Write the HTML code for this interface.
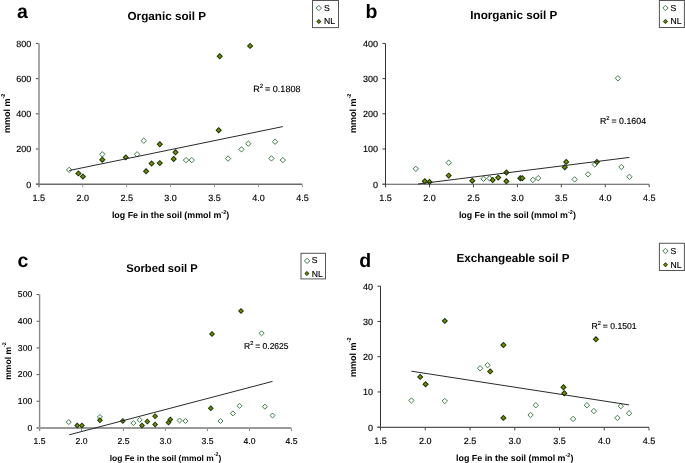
<!DOCTYPE html>
<html><head><meta charset="utf-8"><style>
html,body{margin:0;padding:0;background:#fff;}
svg{display:block;will-change:transform;}
svg text{font-family:"Liberation Sans", sans-serif;fill:#000;text-rendering:geometricPrecision;}
svg text.tk,svg text.rg{stroke:#000;stroke-width:0.15px;}
</style></head><body>
<svg width="685" height="463" viewBox="0 0 685 463">
<rect width="685" height="463" fill="#fff"/>
<text x="17.0" y="18.0" font-size="19.5" font-weight="bold">a</text>
<text x="127.5" y="19.7" font-size="11.7" font-weight="bold">Organic soil P</text>
<line x1="39.0" y1="43.45" x2="39.0" y2="187.2" stroke="#999" stroke-width="1.7"/>
<line x1="36.0" y1="184.20" x2="38.449999999999996" y2="184.20" stroke="#444" stroke-width="1"/>
<text class="tk" transform="translate(31.2,187.50) scale(1,1)" font-size="9.0" text-anchor="end">0</text>
<line x1="36.0" y1="149.01" x2="38.449999999999996" y2="149.01" stroke="#444" stroke-width="1"/>
<text class="tk" transform="translate(31.2,152.31) scale(1,1)" font-size="9.0" text-anchor="end">200</text>
<line x1="36.0" y1="113.82" x2="38.449999999999996" y2="113.82" stroke="#444" stroke-width="1"/>
<text class="tk" transform="translate(31.2,117.12) scale(1,1)" font-size="9.0" text-anchor="end">400</text>
<line x1="36.0" y1="78.64" x2="38.449999999999996" y2="78.64" stroke="#444" stroke-width="1"/>
<text class="tk" transform="translate(31.2,81.94) scale(1,1)" font-size="9.0" text-anchor="end">600</text>
<line x1="36.0" y1="43.45" x2="38.449999999999996" y2="43.45" stroke="#444" stroke-width="1"/>
<text class="tk" transform="translate(31.2,46.75) scale(1,1)" font-size="9.0" text-anchor="end">800</text>
<line x1="36.0" y1="184.2" x2="302.4" y2="184.2" stroke="#6a6a6a" stroke-width="1.5"/>
<line x1="38.80" y1="184.64999999999998" x2="38.80" y2="187.2" stroke="#999" stroke-width="1"/>
<text class="tk" transform="translate(38.80,200.8) scale(1,1)" font-size="9.0" text-anchor="middle">1.5</text>
<line x1="82.73" y1="184.64999999999998" x2="82.73" y2="187.2" stroke="#999" stroke-width="1"/>
<text class="tk" transform="translate(82.73,200.8) scale(1,1)" font-size="9.0" text-anchor="middle">2.0</text>
<line x1="126.67" y1="184.64999999999998" x2="126.67" y2="187.2" stroke="#999" stroke-width="1"/>
<text class="tk" transform="translate(126.67,200.8) scale(1,1)" font-size="9.0" text-anchor="middle">2.5</text>
<line x1="170.60" y1="184.64999999999998" x2="170.60" y2="187.2" stroke="#999" stroke-width="1"/>
<text class="tk" transform="translate(170.60,200.8) scale(1,1)" font-size="9.0" text-anchor="middle">3.0</text>
<line x1="214.53" y1="184.64999999999998" x2="214.53" y2="187.2" stroke="#999" stroke-width="1"/>
<text class="tk" transform="translate(214.53,200.8) scale(1,1)" font-size="9.0" text-anchor="middle">3.5</text>
<line x1="258.47" y1="184.64999999999998" x2="258.47" y2="187.2" stroke="#999" stroke-width="1"/>
<text class="tk" transform="translate(258.47,200.8) scale(1,1)" font-size="9.0" text-anchor="middle">4.0</text>
<line x1="302.40" y1="184.64999999999998" x2="302.40" y2="187.2" stroke="#999" stroke-width="1"/>
<text class="tk" transform="translate(302.40,200.8) scale(1,1)" font-size="9.0" text-anchor="middle">4.5</text>
<text x="170.6" y="218.2" font-size="8.9" font-weight="bold" text-anchor="middle">log Fe in the soil (mmol m<tspan font-size="5.58" dy="-4.3">-2</tspan><tspan dy="4.3">)</tspan></text>
<text transform="translate(10.3,113.3) rotate(-90)" x="0" y="0" font-size="9.0" font-weight="bold" text-anchor="middle">mmol m<tspan font-size="5.58" dy="-5.0">-2</tspan></text>
<polygon points="69.20,167.20 71.90,169.90 69.20,172.60 66.50,169.90" fill="#fff" stroke="#3f7d48" stroke-width="1"/>
<polygon points="102.30,151.60 105.00,154.30 102.30,157.00 99.60,154.30" fill="#fff" stroke="#3f7d48" stroke-width="1"/>
<polygon points="137.10,151.60 139.80,154.30 137.10,157.00 134.40,154.30" fill="#fff" stroke="#3f7d48" stroke-width="1"/>
<polygon points="143.80,138.00 146.50,140.70 143.80,143.40 141.10,140.70" fill="#fff" stroke="#3f7d48" stroke-width="1"/>
<polygon points="186.00,157.40 188.70,160.10 186.00,162.80 183.30,160.10" fill="#fff" stroke="#3f7d48" stroke-width="1"/>
<polygon points="191.70,157.40 194.40,160.10 191.70,162.80 189.00,160.10" fill="#fff" stroke="#3f7d48" stroke-width="1"/>
<polygon points="228.10,155.90 230.80,158.60 228.10,161.30 225.40,158.60" fill="#fff" stroke="#3f7d48" stroke-width="1"/>
<polygon points="241.50,146.70 244.20,149.40 241.50,152.10 238.80,149.40" fill="#fff" stroke="#3f7d48" stroke-width="1"/>
<polygon points="248.30,141.00 251.00,143.70 248.30,146.40 245.60,143.70" fill="#fff" stroke="#3f7d48" stroke-width="1"/>
<polygon points="271.40,155.70 274.10,158.40 271.40,161.10 268.70,158.40" fill="#fff" stroke="#3f7d48" stroke-width="1"/>
<polygon points="275.10,139.00 277.80,141.70 275.10,144.40 272.40,141.70" fill="#fff" stroke="#3f7d48" stroke-width="1"/>
<polygon points="282.80,157.40 285.50,160.10 282.80,162.80 280.10,160.10" fill="#fff" stroke="#3f7d48" stroke-width="1"/>
<polygon points="78.40,170.20 81.60,173.40 78.40,176.60 75.20,173.40" fill="#063306"/><polygon points="78.40,171.50 80.30,173.40 78.40,175.30 76.50,173.40" fill="#848400"/>
<polygon points="82.90,173.40 86.10,176.60 82.90,179.80 79.70,176.60" fill="#063306"/><polygon points="82.90,174.70 84.80,176.60 82.90,178.50 81.00,176.60" fill="#848400"/>
<polygon points="102.30,156.50 105.50,159.70 102.30,162.90 99.10,159.70" fill="#063306"/><polygon points="102.30,157.80 104.20,159.70 102.30,161.60 100.40,159.70" fill="#848400"/>
<polygon points="125.80,154.20 129.00,157.40 125.80,160.60 122.60,157.40" fill="#063306"/><polygon points="125.80,155.50 127.70,157.40 125.80,159.30 123.90,157.40" fill="#848400"/>
<polygon points="146.10,168.10 149.30,171.30 146.10,174.50 142.90,171.30" fill="#063306"/><polygon points="146.10,169.40 148.00,171.30 146.10,173.20 144.20,171.30" fill="#848400"/>
<polygon points="151.60,160.30 154.80,163.50 151.60,166.70 148.40,163.50" fill="#063306"/><polygon points="151.60,161.60 153.50,163.50 151.60,165.40 149.70,163.50" fill="#848400"/>
<polygon points="159.80,159.90 163.00,163.10 159.80,166.30 156.60,163.10" fill="#063306"/><polygon points="159.80,161.20 161.70,163.10 159.80,165.00 157.90,163.10" fill="#848400"/>
<polygon points="159.80,141.10 163.00,144.30 159.80,147.50 156.60,144.30" fill="#063306"/><polygon points="159.80,142.40 161.70,144.30 159.80,146.20 157.90,144.30" fill="#848400"/>
<polygon points="173.70,155.80 176.90,159.00 173.70,162.20 170.50,159.00" fill="#063306"/><polygon points="173.70,157.10 175.60,159.00 173.70,160.90 171.80,159.00" fill="#848400"/>
<polygon points="175.50,149.10 178.70,152.30 175.50,155.50 172.30,152.30" fill="#063306"/><polygon points="175.50,150.40 177.40,152.30 175.50,154.20 173.60,152.30" fill="#848400"/>
<polygon points="218.70,127.00 221.90,130.20 218.70,133.40 215.50,130.20" fill="#063306"/><polygon points="218.70,128.30 220.60,130.20 218.70,132.10 216.80,130.20" fill="#848400"/>
<polygon points="219.70,53.10 222.90,56.30 219.70,59.50 216.50,56.30" fill="#063306"/><polygon points="219.70,54.40 221.60,56.30 219.70,58.20 217.80,56.30" fill="#848400"/>
<polygon points="250.10,42.70 253.30,45.90 250.10,49.10 246.90,45.90" fill="#063306"/><polygon points="250.10,44.00 252.00,45.90 250.10,47.80 248.20,45.90" fill="#848400"/>
<line x1="69.2" y1="170.5" x2="282.8" y2="126.6" stroke="#2a2a2a" stroke-width="1"/>
<text class="rg" x="253.2" y="92.4" font-size="9.0">R<tspan font-size="5.94" dy="-4.3">2</tspan><tspan dy="4.3" dx="-0.4"> = 0.1808</tspan></text>
<rect x="312.5" y="0.5" width="26.0" height="27.1" fill="#fff" stroke="#555" stroke-width="1"/>
<polygon points="318.80,5.40 321.50,8.10 318.80,10.80 316.10,8.10" fill="#fff" stroke="#3f7d48" stroke-width="1"/>
<polygon points="318.80,18.98 321.32,21.50 318.80,24.02 316.28,21.50" fill="#063306"/><polygon points="318.80,19.93 320.38,21.50 318.80,23.07 317.23,21.50" fill="#848400"/>
<text class="rg" x="324.0" y="10.9" font-size="8.6">S</text>
<text class="rg" x="324.0" y="24.4" font-size="8.6">NL</text>
<text x="365.6" y="17.8" font-size="19.5" font-weight="bold">b</text>
<text x="470.3" y="19.3" font-size="11.7" font-weight="bold">Inorganic soil P</text>
<line x1="385.5" y1="43.45" x2="385.5" y2="187.2" stroke="#333" stroke-width="1.0"/>
<line x1="382.5" y1="184.20" x2="385.3" y2="184.20" stroke="#333" stroke-width="1"/>
<text class="tk" transform="translate(378.0,187.50) scale(1,1)" font-size="9.0" text-anchor="end">0</text>
<line x1="382.5" y1="149.01" x2="385.3" y2="149.01" stroke="#333" stroke-width="1"/>
<text class="tk" transform="translate(378.0,152.31) scale(1,1)" font-size="9.0" text-anchor="end">100</text>
<line x1="382.5" y1="113.82" x2="385.3" y2="113.82" stroke="#333" stroke-width="1"/>
<text class="tk" transform="translate(378.0,117.12) scale(1,1)" font-size="9.0" text-anchor="end">200</text>
<line x1="382.5" y1="78.64" x2="385.3" y2="78.64" stroke="#333" stroke-width="1"/>
<text class="tk" transform="translate(378.0,81.94) scale(1,1)" font-size="9.0" text-anchor="end">300</text>
<line x1="382.5" y1="43.45" x2="385.3" y2="43.45" stroke="#333" stroke-width="1"/>
<text class="tk" transform="translate(378.0,46.75) scale(1,1)" font-size="9.0" text-anchor="end">400</text>
<line x1="382.5" y1="184.2" x2="649.2" y2="184.2" stroke="#555" stroke-width="1.1"/>
<line x1="385.60" y1="184.45" x2="385.60" y2="187.2" stroke="#444" stroke-width="1"/>
<text class="tk" transform="translate(385.60,200.8) scale(1,1)" font-size="9.0" text-anchor="middle">1.5</text>
<line x1="429.53" y1="184.45" x2="429.53" y2="187.2" stroke="#444" stroke-width="1"/>
<text class="tk" transform="translate(429.53,200.8) scale(1,1)" font-size="9.0" text-anchor="middle">2.0</text>
<line x1="473.47" y1="184.45" x2="473.47" y2="187.2" stroke="#444" stroke-width="1"/>
<text class="tk" transform="translate(473.47,200.8) scale(1,1)" font-size="9.0" text-anchor="middle">2.5</text>
<line x1="517.40" y1="184.45" x2="517.40" y2="187.2" stroke="#444" stroke-width="1"/>
<text class="tk" transform="translate(517.40,200.8) scale(1,1)" font-size="9.0" text-anchor="middle">3.0</text>
<line x1="561.33" y1="184.45" x2="561.33" y2="187.2" stroke="#444" stroke-width="1"/>
<text class="tk" transform="translate(561.33,200.8) scale(1,1)" font-size="9.0" text-anchor="middle">3.5</text>
<line x1="605.27" y1="184.45" x2="605.27" y2="187.2" stroke="#444" stroke-width="1"/>
<text class="tk" transform="translate(605.27,200.8) scale(1,1)" font-size="9.0" text-anchor="middle">4.0</text>
<line x1="649.20" y1="184.45" x2="649.20" y2="187.2" stroke="#444" stroke-width="1"/>
<text class="tk" transform="translate(649.20,200.8) scale(1,1)" font-size="9.0" text-anchor="middle">4.5</text>
<text x="517.4" y="218.2" font-size="8.85" font-weight="bold" text-anchor="middle">log Fe in the soil (mmol m<tspan font-size="5.58" dy="-4.3">-2</tspan><tspan dy="4.3">)</tspan></text>
<text transform="translate(356.0,113.3) rotate(-90)" x="0" y="0" font-size="9.0" font-weight="bold" text-anchor="middle">mmol m<tspan font-size="5.58" dy="-5.0">-2</tspan></text>
<polygon points="415.80,166.10 418.50,168.80 415.80,171.50 413.10,168.80" fill="#fff" stroke="#3f7d48" stroke-width="1"/>
<polygon points="448.70,160.00 451.40,162.70 448.70,165.40 446.00,162.70" fill="#fff" stroke="#3f7d48" stroke-width="1"/>
<polygon points="483.50,176.10 486.20,178.80 483.50,181.50 480.80,178.80" fill="#fff" stroke="#3f7d48" stroke-width="1"/>
<polygon points="489.60,175.70 492.30,178.40 489.60,181.10 486.90,178.40" fill="#fff" stroke="#3f7d48" stroke-width="1"/>
<polygon points="532.90,177.20 535.60,179.90 532.90,182.60 530.20,179.90" fill="#fff" stroke="#3f7d48" stroke-width="1"/>
<polygon points="538.20,175.50 540.90,178.20 538.20,180.90 535.50,178.20" fill="#fff" stroke="#3f7d48" stroke-width="1"/>
<polygon points="574.60,176.70 577.30,179.40 574.60,182.10 571.90,179.40" fill="#fff" stroke="#3f7d48" stroke-width="1"/>
<polygon points="588.10,171.60 590.80,174.30 588.10,177.00 585.40,174.30" fill="#fff" stroke="#3f7d48" stroke-width="1"/>
<polygon points="594.80,161.80 597.50,164.50 594.80,167.20 592.10,164.50" fill="#fff" stroke="#3f7d48" stroke-width="1"/>
<polygon points="617.90,75.60 620.60,78.30 617.90,81.00 615.20,78.30" fill="#fff" stroke="#3f7d48" stroke-width="1"/>
<polygon points="621.40,164.30 624.10,167.00 621.40,169.70 618.70,167.00" fill="#fff" stroke="#3f7d48" stroke-width="1"/>
<polygon points="629.40,174.10 632.10,176.80 629.40,179.50 626.70,176.80" fill="#fff" stroke="#3f7d48" stroke-width="1"/>
<polygon points="424.80,178.10 428.00,181.30 424.80,184.50 421.60,181.30" fill="#063306"/><polygon points="424.80,179.40 426.70,181.30 424.80,183.20 422.90,181.30" fill="#848400"/>
<polygon points="429.50,178.70 432.70,181.90 429.50,185.10 426.30,181.90" fill="#063306"/><polygon points="429.50,180.00 431.40,181.90 429.50,183.80 427.60,181.90" fill="#848400"/>
<polygon points="448.70,172.40 451.90,175.60 448.70,178.80 445.50,175.60" fill="#063306"/><polygon points="448.70,173.70 450.60,175.60 448.70,177.50 446.80,175.60" fill="#848400"/>
<polygon points="472.30,177.50 475.50,180.70 472.30,183.90 469.10,180.70" fill="#063306"/><polygon points="472.30,178.80 474.20,180.70 472.30,182.60 470.40,180.70" fill="#848400"/>
<polygon points="492.70,176.80 495.90,180.00 492.70,183.20 489.50,180.00" fill="#063306"/><polygon points="492.70,178.10 494.60,180.00 492.70,181.90 490.80,180.00" fill="#848400"/>
<polygon points="498.20,174.40 501.40,177.60 498.20,180.80 495.00,177.60" fill="#063306"/><polygon points="498.20,175.70 500.10,177.60 498.20,179.50 496.30,177.60" fill="#848400"/>
<polygon points="506.40,169.30 509.60,172.50 506.40,175.70 503.20,172.50" fill="#063306"/><polygon points="506.40,170.60 508.30,172.50 506.40,174.40 504.50,172.50" fill="#848400"/>
<polygon points="506.40,178.10 509.60,181.30 506.40,184.50 503.20,181.30" fill="#063306"/><polygon points="506.40,179.40 508.30,181.30 506.40,183.20 504.50,181.30" fill="#848400"/>
<polygon points="520.30,175.00 523.50,178.20 520.30,181.40 517.10,178.20" fill="#063306"/><polygon points="520.30,176.30 522.20,178.20 520.30,180.10 518.40,178.20" fill="#848400"/>
<polygon points="522.30,175.00 525.50,178.20 522.30,181.40 519.10,178.20" fill="#063306"/><polygon points="522.30,176.30 524.20,178.20 522.30,180.10 520.40,178.20" fill="#848400"/>
<polygon points="564.80,164.00 568.00,167.20 564.80,170.40 561.60,167.20" fill="#063306"/><polygon points="564.80,165.30 566.70,167.20 564.80,169.10 562.90,167.20" fill="#848400"/>
<polygon points="566.20,158.70 569.40,161.90 566.20,165.10 563.00,161.90" fill="#063306"/><polygon points="566.20,160.00 568.10,161.90 566.20,163.80 564.30,161.90" fill="#848400"/>
<polygon points="596.90,158.70 600.10,161.90 596.90,165.10 593.70,161.90" fill="#063306"/><polygon points="596.90,160.00 598.80,161.90 596.90,163.80 595.00,161.90" fill="#848400"/>
<line x1="418.0" y1="184" x2="629.4" y2="157.4" stroke="#2a2a2a" stroke-width="1"/>
<text class="rg" x="599.9" y="123.9" font-size="8.8">R<tspan font-size="5.81" dy="-4.3">2</tspan><tspan dy="4.3" dx="-0.4"> = 0.1604</tspan></text>
<rect x="659.4" y="0.5" width="25.0" height="27.0" fill="#fff" stroke="#555" stroke-width="1"/>
<polygon points="665.50,5.30 668.20,8.00 665.50,10.70 662.80,8.00" fill="#fff" stroke="#3f7d48" stroke-width="1"/>
<polygon points="665.50,18.98 668.02,21.50 665.50,24.02 662.98,21.50" fill="#063306"/><polygon points="665.50,19.93 667.08,21.50 665.50,23.07 663.92,21.50" fill="#848400"/>
<text class="rg" x="670.6" y="10.9" font-size="8.6">S</text>
<text class="rg" x="670.6" y="24.4" font-size="8.6">NL</text>
<text x="17.6" y="267.0" font-size="19.5" font-weight="bold">c</text>
<text x="126.2" y="271.9" font-size="11.2" font-weight="bold">Sorbed soil P</text>
<line x1="39.6" y1="294.6" x2="39.6" y2="430.9" stroke="#888" stroke-width="1.4"/>
<line x1="36.6" y1="427.90" x2="39.199999999999996" y2="427.90" stroke="#555" stroke-width="1"/>
<text class="tk" transform="translate(32.2,430.50) scale(1,1)" font-size="8.6" text-anchor="end">0</text>
<line x1="36.6" y1="401.24" x2="39.199999999999996" y2="401.24" stroke="#555" stroke-width="1"/>
<text class="tk" transform="translate(32.2,403.84) scale(1,1)" font-size="8.6" text-anchor="end">100</text>
<line x1="36.6" y1="374.58" x2="39.199999999999996" y2="374.58" stroke="#555" stroke-width="1"/>
<text class="tk" transform="translate(32.2,377.18) scale(1,1)" font-size="8.6" text-anchor="end">200</text>
<line x1="36.6" y1="347.92" x2="39.199999999999996" y2="347.92" stroke="#555" stroke-width="1"/>
<text class="tk" transform="translate(32.2,350.52) scale(1,1)" font-size="8.6" text-anchor="end">300</text>
<line x1="36.6" y1="321.26" x2="39.199999999999996" y2="321.26" stroke="#555" stroke-width="1"/>
<text class="tk" transform="translate(32.2,323.86) scale(1,1)" font-size="8.6" text-anchor="end">400</text>
<line x1="36.6" y1="294.60" x2="39.199999999999996" y2="294.60" stroke="#555" stroke-width="1"/>
<text class="tk" transform="translate(32.2,297.20) scale(1,1)" font-size="8.6" text-anchor="end">500</text>
<line x1="36.6" y1="428.0" x2="291.5" y2="428.0" stroke="#999" stroke-width="2.0"/>
<line x1="39.50" y1="428.7" x2="39.50" y2="431.0" stroke="#888" stroke-width="1"/>
<text class="tk" transform="translate(39.50,443.9) scale(1,1)" font-size="8.6" text-anchor="middle">1.5</text>
<line x1="81.50" y1="428.7" x2="81.50" y2="431.0" stroke="#888" stroke-width="1"/>
<text class="tk" transform="translate(81.50,443.9) scale(1,1)" font-size="8.6" text-anchor="middle">2.0</text>
<line x1="123.50" y1="428.7" x2="123.50" y2="431.0" stroke="#888" stroke-width="1"/>
<text class="tk" transform="translate(123.50,443.9) scale(1,1)" font-size="8.6" text-anchor="middle">2.5</text>
<line x1="165.50" y1="428.7" x2="165.50" y2="431.0" stroke="#888" stroke-width="1"/>
<text class="tk" transform="translate(165.50,443.9) scale(1,1)" font-size="8.6" text-anchor="middle">3.0</text>
<line x1="207.50" y1="428.7" x2="207.50" y2="431.0" stroke="#888" stroke-width="1"/>
<text class="tk" transform="translate(207.50,443.9) scale(1,1)" font-size="8.6" text-anchor="middle">3.5</text>
<line x1="249.50" y1="428.7" x2="249.50" y2="431.0" stroke="#888" stroke-width="1"/>
<text class="tk" transform="translate(249.50,443.9) scale(1,1)" font-size="8.6" text-anchor="middle">4.0</text>
<line x1="291.50" y1="428.7" x2="291.50" y2="431.0" stroke="#888" stroke-width="1"/>
<text class="tk" transform="translate(291.50,443.9) scale(1,1)" font-size="8.6" text-anchor="middle">4.5</text>
<text x="165.5" y="460.6" font-size="8.45" font-weight="bold" text-anchor="middle">log Fe in the soil (mmol m<tspan font-size="5.33" dy="-4.3">-2</tspan><tspan dy="4.3">)</tspan></text>
<text transform="translate(11.4,361.0) rotate(-90)" x="0" y="0" font-size="8.6" font-weight="bold" text-anchor="middle">mmol m<tspan font-size="5.33" dy="-5.0">-2</tspan></text>
<polygon points="68.80,419.59 71.31,422.10 68.80,424.61 66.29,422.10" fill="#fff" stroke="#3f7d48" stroke-width="1"/>
<polygon points="99.90,414.49 102.41,417.00 99.90,419.51 97.39,417.00" fill="#fff" stroke="#3f7d48" stroke-width="1"/>
<polygon points="133.40,420.59 135.91,423.10 133.40,425.61 130.89,423.10" fill="#fff" stroke="#3f7d48" stroke-width="1"/>
<polygon points="139.70,417.39 142.21,419.90 139.70,422.41 137.19,419.90" fill="#fff" stroke="#3f7d48" stroke-width="1"/>
<polygon points="179.60,417.99 182.11,420.50 179.60,423.01 177.09,420.50" fill="#fff" stroke="#3f7d48" stroke-width="1"/>
<polygon points="185.40,418.49 187.91,421.00 185.40,423.51 182.89,421.00" fill="#fff" stroke="#3f7d48" stroke-width="1"/>
<polygon points="220.50,418.49 223.01,421.00 220.50,423.51 217.99,421.00" fill="#fff" stroke="#3f7d48" stroke-width="1"/>
<polygon points="232.90,410.89 235.41,413.40 232.90,415.91 230.39,413.40" fill="#fff" stroke="#3f7d48" stroke-width="1"/>
<polygon points="239.50,403.29 242.01,405.80 239.50,408.31 236.99,405.80" fill="#fff" stroke="#3f7d48" stroke-width="1"/>
<polygon points="261.60,330.79 264.11,333.30 261.60,335.81 259.09,333.30" fill="#fff" stroke="#3f7d48" stroke-width="1"/>
<polygon points="264.90,404.19 267.41,406.70 264.90,409.21 262.39,406.70" fill="#fff" stroke="#3f7d48" stroke-width="1"/>
<polygon points="272.50,412.99 275.01,415.50 272.50,418.01 269.99,415.50" fill="#fff" stroke="#3f7d48" stroke-width="1"/>
<polygon points="77.20,422.62 80.18,425.60 77.20,428.58 74.22,425.60" fill="#063306"/><polygon points="77.20,423.83 78.97,425.60 77.20,427.37 75.43,425.60" fill="#848400"/>
<polygon points="81.90,422.62 84.88,425.60 81.90,428.58 78.92,425.60" fill="#063306"/><polygon points="81.90,423.83 83.67,425.60 81.90,427.37 80.13,425.60" fill="#848400"/>
<polygon points="99.90,417.32 102.88,420.30 99.90,423.28 96.92,420.30" fill="#063306"/><polygon points="99.90,418.53 101.67,420.30 99.90,422.07 98.13,420.30" fill="#848400"/>
<polygon points="122.80,418.12 125.78,421.10 122.80,424.08 119.82,421.10" fill="#063306"/><polygon points="122.80,419.33 124.57,421.10 122.80,422.87 121.03,421.10" fill="#848400"/>
<polygon points="142.00,422.42 144.98,425.40 142.00,428.38 139.02,425.40" fill="#063306"/><polygon points="142.00,423.63 143.77,425.40 142.00,427.17 140.23,425.40" fill="#848400"/>
<polygon points="147.30,418.52 150.28,421.50 147.30,424.48 144.32,421.50" fill="#063306"/><polygon points="147.30,419.73 149.07,421.50 147.30,423.27 145.53,421.50" fill="#848400"/>
<polygon points="155.10,413.22 158.08,416.20 155.10,419.18 152.12,416.20" fill="#063306"/><polygon points="155.10,414.43 156.87,416.20 155.10,417.97 153.33,416.20" fill="#848400"/>
<polygon points="155.10,421.62 158.08,424.60 155.10,427.58 152.12,424.60" fill="#063306"/><polygon points="155.10,422.83 156.87,424.60 155.10,426.37 153.33,424.60" fill="#848400"/>
<polygon points="168.50,419.52 171.48,422.50 168.50,425.48 165.52,422.50" fill="#063306"/><polygon points="168.50,420.73 170.27,422.50 168.50,424.27 166.73,422.50" fill="#848400"/>
<polygon points="170.30,416.42 173.28,419.40 170.30,422.38 167.32,419.40" fill="#063306"/><polygon points="170.30,417.63 172.07,419.40 170.30,421.17 168.53,419.40" fill="#848400"/>
<polygon points="210.80,405.32 213.78,408.30 210.80,411.28 207.82,408.30" fill="#063306"/><polygon points="210.80,406.53 212.57,408.30 210.80,410.07 209.03,408.30" fill="#848400"/>
<polygon points="212.00,330.92 214.98,333.90 212.00,336.88 209.02,333.90" fill="#063306"/><polygon points="212.00,332.13 213.77,333.90 212.00,335.67 210.23,333.90" fill="#848400"/>
<polygon points="241.00,307.92 243.98,310.90 241.00,313.88 238.02,310.90" fill="#063306"/><polygon points="241.00,309.13 242.77,310.90 241.00,312.67 239.23,310.90" fill="#848400"/>
<line x1="69.2" y1="434.8" x2="272.5" y2="381.4" stroke="#2a2a2a" stroke-width="1"/>
<text class="rg" x="244.0" y="349.0" font-size="8.5">R<tspan font-size="5.61" dy="-4.3">2</tspan><tspan dy="4.3" dx="-0.4"> = 0.2625</tspan></text>
<rect x="301.0" y="253.3" width="24.5" height="25.6" fill="#fff" stroke="#555" stroke-width="1"/>
<polygon points="307.10,258.20 309.80,260.90 307.10,263.60 304.40,260.90" fill="#fff" stroke="#3f7d48" stroke-width="1"/>
<polygon points="306.90,271.08 309.42,273.60 306.90,276.12 304.38,273.60" fill="#063306"/><polygon points="306.90,272.03 308.47,273.60 306.90,275.18 305.32,273.60" fill="#848400"/>
<text class="rg" x="311.8" y="263.4" font-size="8.6">S</text>
<text class="rg" x="311.8" y="276.5" font-size="8.6">NL</text>
<text x="359.2" y="267.0" font-size="19.5" font-weight="bold">d</text>
<text x="456.5" y="262.4" font-size="11.7" font-weight="bold">Exchangeable soil P</text>
<line x1="380.5" y1="286.2" x2="380.5" y2="430.2" stroke="#333" stroke-width="1.0"/>
<line x1="377.5" y1="427.20" x2="380.3" y2="427.20" stroke="#333" stroke-width="1"/>
<text class="tk" transform="translate(373.0,430.50) scale(1,1)" font-size="9.0" text-anchor="end">0</text>
<line x1="377.5" y1="391.95" x2="380.3" y2="391.95" stroke="#333" stroke-width="1"/>
<text class="tk" transform="translate(373.0,395.25) scale(1,1)" font-size="9.0" text-anchor="end">10</text>
<line x1="377.5" y1="356.70" x2="380.3" y2="356.70" stroke="#333" stroke-width="1"/>
<text class="tk" transform="translate(373.0,360.00) scale(1,1)" font-size="9.0" text-anchor="end">20</text>
<line x1="377.5" y1="321.45" x2="380.3" y2="321.45" stroke="#333" stroke-width="1"/>
<text class="tk" transform="translate(373.0,324.75) scale(1,1)" font-size="9.0" text-anchor="end">30</text>
<line x1="377.5" y1="286.20" x2="380.3" y2="286.20" stroke="#333" stroke-width="1"/>
<text class="tk" transform="translate(373.0,289.50) scale(1,1)" font-size="9.0" text-anchor="end">40</text>
<line x1="377.5" y1="427.4" x2="649.0" y2="427.4" stroke="#555" stroke-width="1.1"/>
<line x1="380.50" y1="427.65" x2="380.50" y2="430.4" stroke="#444" stroke-width="1"/>
<text class="tk" transform="translate(380.50,443.9) scale(1,1)" font-size="9.0" text-anchor="middle">1.5</text>
<line x1="425.25" y1="427.65" x2="425.25" y2="430.4" stroke="#444" stroke-width="1"/>
<text class="tk" transform="translate(425.25,443.9) scale(1,1)" font-size="9.0" text-anchor="middle">2.0</text>
<line x1="470.00" y1="427.65" x2="470.00" y2="430.4" stroke="#444" stroke-width="1"/>
<text class="tk" transform="translate(470.00,443.9) scale(1,1)" font-size="9.0" text-anchor="middle">2.5</text>
<line x1="514.75" y1="427.65" x2="514.75" y2="430.4" stroke="#444" stroke-width="1"/>
<text class="tk" transform="translate(514.75,443.9) scale(1,1)" font-size="9.0" text-anchor="middle">3.0</text>
<line x1="559.50" y1="427.65" x2="559.50" y2="430.4" stroke="#444" stroke-width="1"/>
<text class="tk" transform="translate(559.50,443.9) scale(1,1)" font-size="9.0" text-anchor="middle">3.5</text>
<line x1="604.25" y1="427.65" x2="604.25" y2="430.4" stroke="#444" stroke-width="1"/>
<text class="tk" transform="translate(604.25,443.9) scale(1,1)" font-size="9.0" text-anchor="middle">4.0</text>
<line x1="649.00" y1="427.65" x2="649.00" y2="430.4" stroke="#444" stroke-width="1"/>
<text class="tk" transform="translate(649.00,443.9) scale(1,1)" font-size="9.0" text-anchor="middle">4.5</text>
<text x="514.75" y="461.0" font-size="8.9" font-weight="bold" text-anchor="middle">log Fe in the soil (mmol m<tspan font-size="5.58" dy="-4.3">-2</tspan><tspan dy="4.3">)</tspan></text>
<text transform="translate(356.2,357.2) rotate(-90)" x="0" y="0" font-size="9.0" font-weight="bold" text-anchor="middle">mmol m<tspan font-size="5.58" dy="-5.0">-2</tspan></text>
<polygon points="411.40,397.80 414.10,400.50 411.40,403.20 408.70,400.50" fill="#fff" stroke="#3f7d48" stroke-width="1"/>
<polygon points="444.80,398.30 447.50,401.00 444.80,403.70 442.10,401.00" fill="#fff" stroke="#3f7d48" stroke-width="1"/>
<polygon points="480.10,365.60 482.80,368.30 480.10,371.00 477.40,368.30" fill="#fff" stroke="#3f7d48" stroke-width="1"/>
<polygon points="487.60,362.50 490.30,365.20 487.60,367.90 484.90,365.20" fill="#fff" stroke="#3f7d48" stroke-width="1"/>
<polygon points="530.60,412.30 533.30,415.00 530.60,417.70 527.90,415.00" fill="#fff" stroke="#3f7d48" stroke-width="1"/>
<polygon points="535.80,402.50 538.50,405.20 535.80,407.90 533.10,405.20" fill="#fff" stroke="#3f7d48" stroke-width="1"/>
<polygon points="573.10,416.20 575.80,418.90 573.10,421.60 570.40,418.90" fill="#fff" stroke="#3f7d48" stroke-width="1"/>
<polygon points="586.90,402.50 589.60,405.20 586.90,407.90 584.20,405.20" fill="#fff" stroke="#3f7d48" stroke-width="1"/>
<polygon points="593.90,408.40 596.60,411.10 593.90,413.80 591.20,411.10" fill="#fff" stroke="#3f7d48" stroke-width="1"/>
<polygon points="617.40,415.20 620.10,417.90 617.40,420.60 614.70,417.90" fill="#fff" stroke="#3f7d48" stroke-width="1"/>
<polygon points="620.80,403.50 623.50,406.20 620.80,408.90 618.10,406.20" fill="#fff" stroke="#3f7d48" stroke-width="1"/>
<polygon points="629.10,410.50 631.80,413.20 629.10,415.90 626.40,413.20" fill="#fff" stroke="#3f7d48" stroke-width="1"/>
<polygon points="420.20,373.70 423.40,376.90 420.20,380.10 417.00,376.90" fill="#063306"/><polygon points="420.20,375.00 422.10,376.90 420.20,378.80 418.30,376.90" fill="#848400"/>
<polygon points="425.60,381.00 428.80,384.20 425.60,387.40 422.40,384.20" fill="#063306"/><polygon points="425.60,382.30 427.50,384.20 425.60,386.10 423.70,384.20" fill="#848400"/>
<polygon points="444.80,317.70 448.00,320.90 444.80,324.10 441.60,320.90" fill="#063306"/><polygon points="444.80,319.00 446.70,320.90 444.80,322.80 442.90,320.90" fill="#848400"/>
<polygon points="490.20,368.20 493.40,371.40 490.20,374.60 487.00,371.40" fill="#063306"/><polygon points="490.20,369.50 492.10,371.40 490.20,373.30 488.30,371.40" fill="#848400"/>
<polygon points="503.40,341.80 506.60,345.00 503.40,348.20 500.20,345.00" fill="#063306"/><polygon points="503.40,343.10 505.30,345.00 503.40,346.90 501.50,345.00" fill="#848400"/>
<polygon points="503.40,414.70 506.60,417.90 503.40,421.10 500.20,417.90" fill="#063306"/><polygon points="503.40,416.00 505.30,417.90 503.40,419.80 501.50,417.90" fill="#848400"/>
<polygon points="563.50,384.10 566.70,387.30 563.50,390.50 560.30,387.30" fill="#063306"/><polygon points="563.50,385.40 565.40,387.30 563.50,389.20 561.60,387.30" fill="#848400"/>
<polygon points="564.30,390.00 567.50,393.20 564.30,396.40 561.10,393.20" fill="#063306"/><polygon points="564.30,391.30 566.20,393.20 564.30,395.10 562.40,393.20" fill="#848400"/>
<polygon points="595.90,336.10 599.10,339.30 595.90,342.50 592.70,339.30" fill="#063306"/><polygon points="595.90,337.40 597.80,339.30 595.90,341.20 594.00,339.30" fill="#848400"/>
<line x1="411.4" y1="371.2" x2="629.1" y2="404.9" stroke="#2a2a2a" stroke-width="1"/>
<text class="rg" x="591.4" y="329.3" font-size="8.65">R<tspan font-size="5.71" dy="-4.3">2</tspan><tspan dy="4.3" dx="-0.4"> = 0.1501</tspan></text>
<rect x="659.4" y="243.3" width="25.0" height="27.2" fill="#fff" stroke="#555" stroke-width="1"/>
<polygon points="665.50,248.30 668.20,251.00 665.50,253.70 662.80,251.00" fill="#fff" stroke="#3f7d48" stroke-width="1"/>
<polygon points="665.50,262.28 668.02,264.80 665.50,267.32 662.98,264.80" fill="#063306"/><polygon points="665.50,263.23 667.08,264.80 665.50,266.38 663.92,264.80" fill="#848400"/>
<text class="rg" x="670.6" y="253.8" font-size="8.6">S</text>
<text class="rg" x="670.6" y="267.8" font-size="8.6">NL</text>
</svg>
</body></html>
